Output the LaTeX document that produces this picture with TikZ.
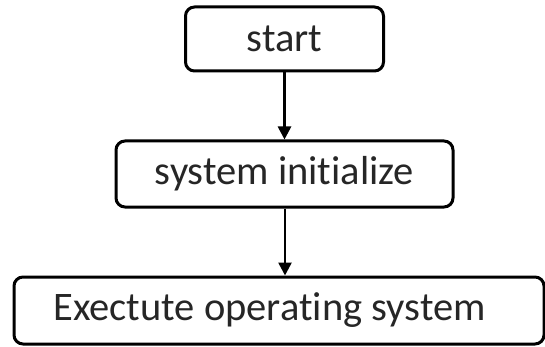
\documentclass[tikz,border=0pt]{standalone}
\usepackage{fontspec}
\setmainfont[Ligatures={NoCommon}]{Carlito}
\usetikzlibrary{arrows.meta}
\begin{document}
\begin{tikzpicture}[x=1pt,y=-1pt,
  stepbox/.style={draw=black, line width=3pt, rounded corners=9pt,
    fill=white, inner sep=0pt, font=\fontsize{40.5}{46}\selectfont, text=black!85},
  flow/.style={draw=black, line width=2.6pt, -{Triangle[length=13pt,width=13pt]}}]
  \useasboundingbox (0,0) rectangle (545,347);
  \node[stepbox, minimum width=198pt, minimum height=64pt] (start) at (284.5,39) {start};
  \node[stepbox, minimum width=337pt, minimum height=66pt] (init) at (284.5,174) {system initialize};
  % the wide box sits a little right of the text it holds
  \node[stepbox, minimum width=530pt, minimum height=67pt] (exec) at (279,310.5) {\hspace*{-19pt}Exectute operating system};
  \draw[flow] (start.south -| 284.5,0) -- (init.north -| 284.5,0);
  \draw[flow] (init.south -| 285,0) -- (exec.north -| 285,0);
\end{tikzpicture}
\end{document}
